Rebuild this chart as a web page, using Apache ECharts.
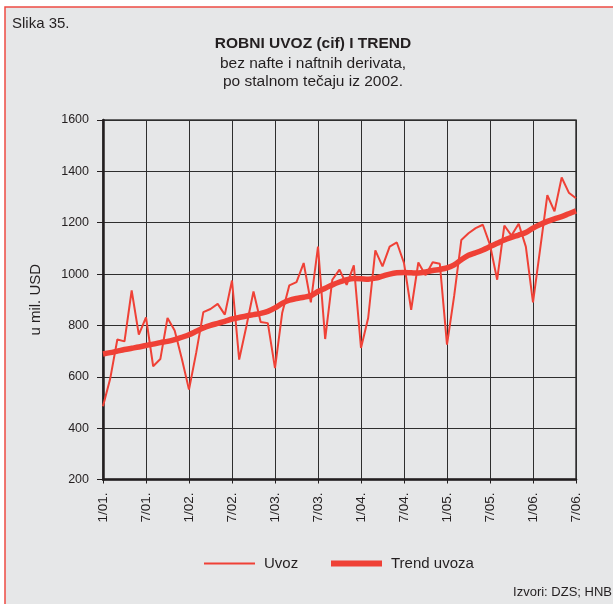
<!DOCTYPE html>
<html>
<head>
<meta charset="utf-8">
<script src="https://cdn.jsdelivr.net/npm/echarts@6/dist/echarts.min.js"></script>
<style>
html,body{margin:0;padding:0;background:#fff;}
#chart{width:613px;height:604px;}
</style>
</head>
<body>
<div id="chart"></div>
<script>
// Categories: monthly, 1/01. .. 7/06.
var categories = [
  '1/01.','2/01.','3/01.','4/01.','5/01.','6/01.','7/01.','8/01.','9/01.','10/01.','11/01.','12/01.',
  '1/02.','2/02.','3/02.','4/02.','5/02.','6/02.','7/02.','8/02.','9/02.','10/02.','11/02.','12/02.',
  '1/03.','2/03.','3/03.','4/03.','5/03.','6/03.','7/03.','8/03.','9/03.','10/03.','11/03.','12/03.',
  '1/04.','2/04.','3/04.','4/04.','5/04.','6/04.','7/04.','8/04.','9/04.','10/04.','11/04.','12/04.',
  '1/05.','2/05.','3/05.','4/05.','5/05.','6/05.','7/05.','8/05.','9/05.','10/05.','11/05.','12/05.',
  '1/06.','2/06.','3/06.','4/06.','5/06.','6/06.','7/06.'
];
var uvoz = [
  485, 592, 745, 738, 936, 764, 831, 641, 669, 829, 780, 670,
  550, 693, 852, 864, 884, 842, 975, 667, 796, 932, 813, 809,
  634, 848, 956, 969, 1043, 890, 1107, 747, 978, 1017, 958, 1034,
  712, 829, 1092, 1030, 1107, 1123, 1043, 861, 1045, 995, 1046, 1040,
  725, 915, 1133, 1159, 1179, 1192, 1114, 978, 1189, 1150, 1196, 1107,
  890, 1098, 1307, 1244, 1376, 1317, 1295
];
var trend = [
  689, 694, 700, 706, 711, 716, 722, 727, 733, 738, 745, 754,
  764, 777, 790, 800, 808, 816, 825, 831, 837, 842, 847, 855,
  868, 886, 898, 905, 910, 916, 932, 945, 958, 969, 978, 983,
  982, 980, 984, 992, 1000, 1005, 1006, 1005, 1004, 1008, 1014, 1018,
  1024, 1036, 1056, 1073, 1083, 1094, 1107, 1120, 1133, 1143, 1152, 1162,
  1179, 1193, 1205, 1215, 1224, 1235, 1246
];
var yTicks = { min: 200, max: 1600, interval: 200 };
var seriesNames = ['Uvoz', 'Trend uvoza'];

var FONT = '"Liberation Sans", Arial, Helvetica, sans-serif';
var TXT = '#231f20';
var RED = '#ef4136';

var chart = echarts.init(document.getElementById('chart'), null, { renderer: 'canvas' });
chart.setOption({
  backgroundColor: '#ffffff',
  animation: false,
  textStyle: { fontFamily: FONT },
  graphic: [
    { type: 'rect', z: -100, shape: { x: 5, y: 7, width: 700, height: 700 },
      style: { fill: '#e6e7e8', stroke: '#ee4b43', lineWidth: 1.5 } },
    { type: 'text', x: 12, y: 24, style: { text: 'Slika 35.', font: '15px ' + FONT, fill: TXT, textVerticalAlign: 'middle' } },
    { type: 'text', x: 313, y: 44, style: { text: 'ROBNI UVOZ (cif) I TREND', font: 'bold 15.5px ' + FONT, fill: TXT, textAlign: 'center', textVerticalAlign: 'middle' } },
    { type: 'text', x: 313, y: 64, style: { text: 'bez nafte i naftnih derivata,', font: '15.5px ' + FONT, fill: TXT, textAlign: 'center', textVerticalAlign: 'middle' } },
    { type: 'text', x: 313, y: 82, style: { text: 'po stalnom tečaju iz 2002.', font: '15.5px ' + FONT, fill: TXT, textAlign: 'center', textVerticalAlign: 'middle' } },
    { type: 'text', x: 612, y: 592, style: { text: 'Izvori: DZS; HNB', font: '13px ' + FONT, fill: TXT, textAlign: 'right', textVerticalAlign: 'middle' } }
  ],
  grid: {
    left: 103, right: 37, top: 120, bottom: 124.5,
    show: true, borderColor: '#3a3a3a', borderWidth: 1.5, backgroundColor: 'transparent'
  },
  legend: [
    { data: [seriesNames[0]], left: 199, top: 551, icon: 'rect', itemWidth: 51, itemHeight: 2,
      itemStyle: { color: RED }, textStyle: { fontSize: 15, color: TXT, fontFamily: FONT, padding: [0, 0, 0, 4] } },
    { data: [seriesNames[1]], left: 326, top: 551, icon: 'rect', itemWidth: 51, itemHeight: 6,
      itemStyle: { color: RED }, textStyle: { fontSize: 15, color: TXT, fontFamily: FONT, padding: [0, 0, 0, 4] } }
  ],
  xAxis: {
    type: 'category',
    data: categories,
    boundaryGap: false,
    axisLine: { lineStyle: { color: TXT, width: 2.5 } },
    axisTick: { show: true, interval: 5, length: 4, lineStyle: { color: TXT, width: 1 } },
    axisLabel: { interval: 5, rotate: 90, margin: 13, fontSize: 13.5, color: TXT, fontFamily: FONT },
    splitLine: { show: true, interval: 5, lineStyle: { color: '#2e2e2e', width: 1 } }
  },
  yAxis: {
    type: 'value',
    min: yTicks.min, max: yTicks.max, interval: yTicks.interval,
    name: 'u mil. USD',
    nameLocation: 'middle',
    nameRotate: 90,
    nameGap: 60,
    nameTextStyle: { fontSize: 15, color: TXT, fontFamily: FONT },
    axisLine: { show: true, lineStyle: { color: TXT, width: 2.5 } },
    axisTick: { show: true, length: 6, lineStyle: { color: TXT, width: 1 } },
    axisLabel: { margin: 14, fontSize: 12.5, color: TXT, fontFamily: FONT, formatter: function (v) { return String(v); } },
    splitLine: { show: true, lineStyle: { color: '#2e2e2e', width: 1 } }
  },
  series: [
    { name: seriesNames[0], type: 'line', data: uvoz, symbol: 'none', showSymbol: false,
      lineStyle: { color: RED, width: 2 }, itemStyle: { color: RED }, z: 3 },
    { name: seriesNames[1], type: 'line', data: trend, symbol: 'none', showSymbol: false, smooth: 0.3,
      lineStyle: { color: RED, width: 5.5 }, itemStyle: { color: RED }, z: 4 }
  ]
});
</script>
</body>
</html>
